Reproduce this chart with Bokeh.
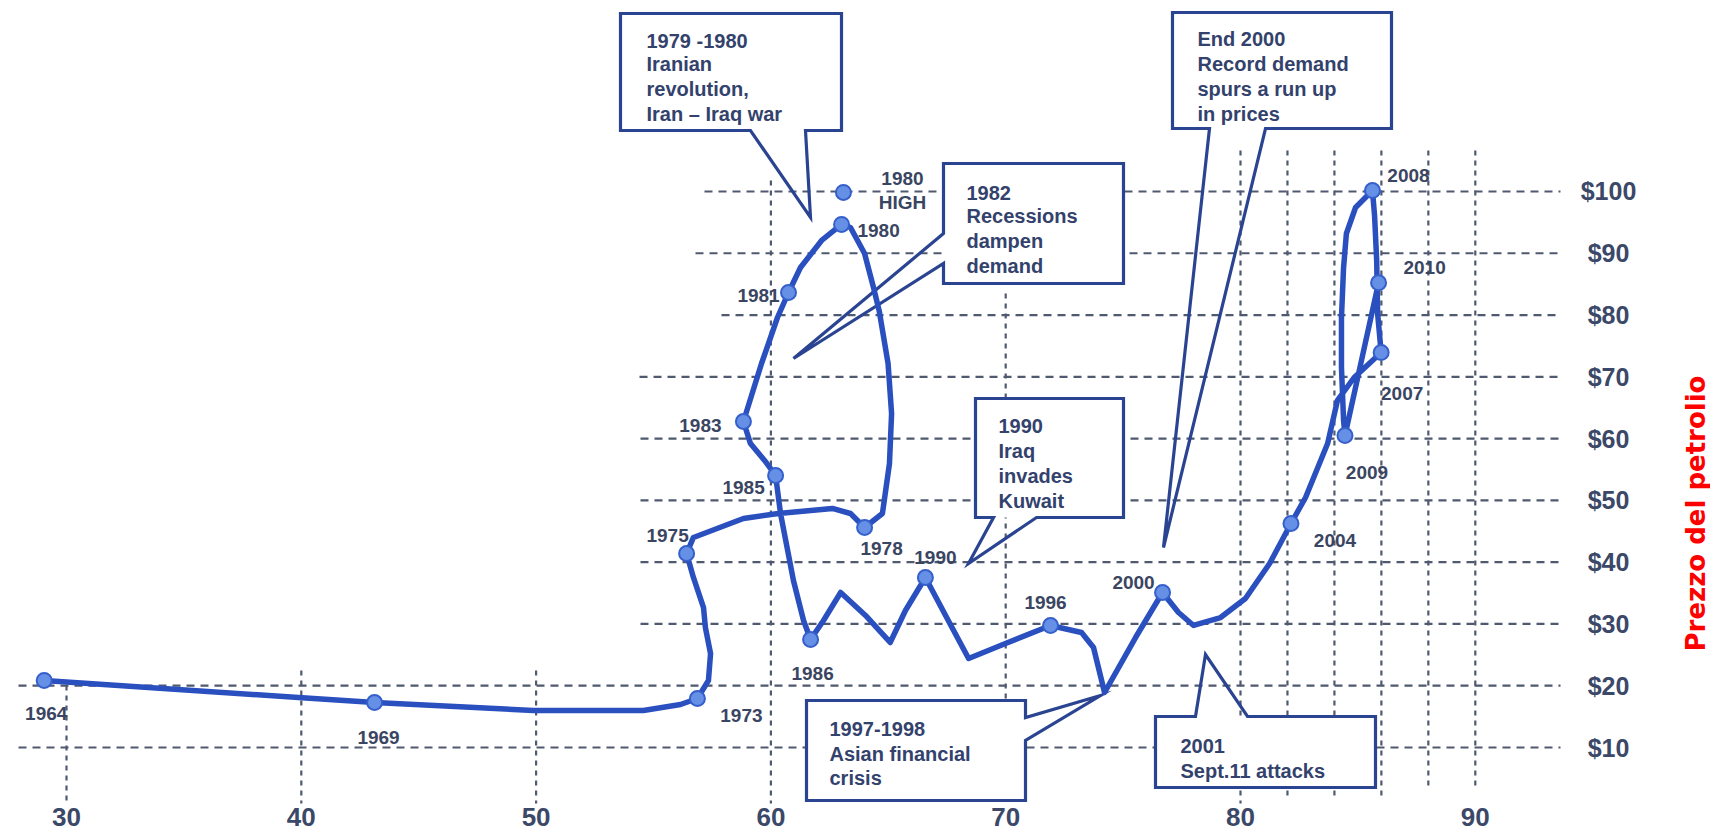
import math
from bokeh.plotting import figure
from bokeh.models import Range1d, ColumnDataSource
from bokeh.core.properties import value
from bokeh.embed import file_html
from bokeh.resources import INLINE

# ---------------- data ----------------
x_ticks = [30, 40, 50, 60, 70, 80, 90]
x_tick_labels = ["30", "40", "50", "60", "70", "80", "90"]
y_ticks = [10, 20, 30, 40, 50, 60, 70, 80, 90, 100]
y_tick_labels = ["$10", "$20", "$30", "$40", "$50", "$60", "$70", "$80", "$90", "$100"]

# traced path of the curve (x units, $ price)
path_x = [29.05, 39.88, 43.12, 49.89, 54.57, 56.15, 56.87, 57.34, 57.43, 57.21,
          57.13, 56.70, 56.41, 56.70, 58.83, 60.32, 62.62, 63.39, 63.99, 64.75,
          65.05, 65.14, 64.99, 64.61, 64.37, 63.99, 63.39, 63.01, 62.16, 61.26,
          60.75, 60.28, 59.60, 58.83, 59.13, 59.73, 60.20, 60.41, 60.96, 61.39,
          61.69, 62.24, 62.97, 64.03, 65.08, 65.73, 66.58, 67.44, 68.42, 69.99,
          71.91, 73.23, 73.74, 74.21, 75.53, 76.68, 77.36, 78.00, 79.15, 80.21,
          81.24, 82.15, 82.77, 83.71, 84.13, 84.84, 85.99, 85.84, 85.80, 85.71,
          85.62, 84.90, 84.51, 84.39, 84.30, 84.30, 84.39, 84.45, 85.88]
path_y = [20.85, 18.09, 17.28, 15.99, 16.00, 16.96, 17.93, 20.85, 25.20, 29.42,
          32.66, 37.52, 41.40, 44.00, 47.07, 47.88, 48.69, 47.88, 45.61, 47.88,
          55.97, 64.06, 72.16, 80.73, 84.46, 89.96, 94.17, 94.66, 92.07, 87.70,
          83.65, 79.60, 72.16, 62.77, 59.20, 56.46, 54.03, 47.88, 37.03, 30.56,
          27.48, 30.56, 35.09, 31.37, 27.00, 32.18, 37.52, 31.37, 24.41, 26.83,
          29.75, 28.61, 26.19, 18.90, 27.80, 35.09, 31.85, 29.75, 31.04, 34.12,
          39.78, 46.26, 50.47, 59.20, 66.17, 69.89, 73.94, 80.25, 88.83, 96.11,
          100.16, 97.41, 93.20, 87.70, 79.60, 71.51, 62.93, 60.50, 85.23]

# marked years
point_years = ["1964", "1969", "1973", "1975", "1978", "1980", "1981", "1983", "1985",
               "1986", "1990", "1996", "2000", "2004", "2007", "2008", "2009", "2010"]
point_x = [29.05, 43.12, 56.87, 56.41, 63.99, 63.01, 60.75, 58.83, 60.20,
           61.69, 66.58, 71.91, 76.68, 82.15, 85.99, 85.62, 84.45, 85.88]
point_y = [20.85, 17.28, 17.93, 41.40, 45.61, 94.66, 83.65, 62.77, 54.03,
           27.48, 37.52, 29.75, 35.09, 46.26, 73.94, 100.16, 60.50, 85.23]

high_label = ["1980", "HIGH"]
high_x = [63.09]
high_y = [99.84]

# ---------------- layout (reference pixel geometry) ----------------
W, H = 1710, 830
X0_PX, X_PX = 66.0, 23.48     # page px of x=30, px per unit
Y0_PX, Y_PX = 747.0, 6.178    # page px of $10, px per $


def dx(px):
    return 30 + (px - X0_PX) / X_PX


def dy(py):
    return 10 + (Y0_PX - py) / Y_PX


# label offsets (screen px) for the year labels
label_off_x = [2, 4, 44, -19, 17, 37, -30, -43, -32, 2, 10, -5, -29, 44, 21, 36, 22, 46]
label_off_y = [33, 35, 17, -18, 21, 6, 3, 4, 12, 34, -20, -23, -10, 17, 41, -15, 37, -15]

# grid segments
h_start_px = {100: 704, 90: 695, 80: 721, 70: 639, 60: 640, 50: 640, 40: 640, 30: 640, 20: 18, 10: 18}
h_end_px = 1560
v_lines = [30, 40, 50, 60, 70, 80, 82, 84, 86, 88, 90]
v_top_px = {30: 685, 40: 670, 50: 670, 60: 180, 70: 293, 80: 150, 82: 150, 84: 150, 86: 150, 88: 150, 90: 150}
v_bot_px = {30: 803, 40: 803, 50: 803, 60: 803, 70: 803, 80: 803, 82: 795, 84: 795, 86: 795, 88: 790, 90: 790}

callouts = [
    dict(box=(620, 13, 841, 130), side="bottom", base=(750, 805), apex=(810, 217),
         tx=646, ty=[40, 63, 88, 113],
         lines=["1979 -1980", "Iranian", "revolution,", "Iran \u2013 Iraq war"]),
    dict(box=(943, 163, 1123, 283), side="left", base=(233, 263), apex=(793, 358),
         tx=966, ty=[192, 215, 240, 265],
         lines=["1982", "Recessions", "dampen", "demand"]),
    dict(box=(975, 398, 1123, 517), side="bottom", base=(993, 1036), apex=(968, 563),
         tx=998, ty=[425, 450, 475, 500],
         lines=["1990", "Iraq", "invades", "Kuwait"]),
    dict(box=(1172, 12, 1391, 128), side="bottom", base=(1209, 1265), apex=(1163, 547),
         tx=1197, ty=[38, 63, 88, 113],
         lines=["End 2000", "Record demand", "spurs a run up", "in prices"]),
    dict(box=(806, 700, 1025, 800), side="right", base=(717, 740), apex=(1100, 695),
         tx=829, ty=[728, 753, 777],
         lines=["1997-1998", "Asian financial", "crisis"]),
    dict(box=(1155, 716, 1375, 787), side="top", base=(1195, 1247), apex=(1205, 654),
         tx=1180, ty=[745, 770],
         lines=["2001", "Sept.11 attacks"]),
]


def outline(c):
    l, t, r, b = c["box"]
    b1, b2 = c["base"]
    ax, ay = c["apex"]
    s = c["side"]
    if s == "bottom":
        pts = [(l, t), (r, t), (r, b), (b2, b), (ax, ay), (b1, b), (l, b), (l, t)]
    elif s == "top":
        pts = [(l, t), (b1, t), (ax, ay), (b2, t), (r, t), (r, b), (l, b), (l, t)]
    elif s == "left":
        pts = [(l, t), (r, t), (r, b), (l, b), (l, b2), (ax, ay), (l, b1), (l, t)]
    else:
        pts = [(l, t), (r, t), (r, b1), (ax, ay), (r, b2), (r, b), (l, b), (l, t)]
    return [dx(px) for px, _ in pts], [dy(py) for _, py in pts]


p = figure(width=W, height=H,
           x_range=Range1d(dx(0), dx(W)), y_range=Range1d(dy(H), dy(0)),
           x_axis_location=None, y_axis_location=None,
           toolbar_location=None, output_backend="svg", min_border=0)
p.grid.visible = False
p.outline_line_color = None
p.background_fill_color = "white"
p.border_fill_color = "white"

GRID = "#4f596f"
# horizontal dashed grid
p.segment(x0=[dx(h_start_px[v]) for v in y_ticks], y0=y_ticks,
          x1=[dx(h_end_px)] * len(y_ticks), y1=y_ticks,
          line_color=GRID, line_width=2.2, line_dash="8 6")
# vertical dashed grid
p.segment(x0=v_lines, y0=[dy(v_top_px[v]) for v in v_lines],
          x1=v_lines, y1=[dy(v_bot_px[v]) for v in v_lines],
          line_color=GRID, line_width=2.2, line_dash="5 5")

# callout boxes
BOX = "#2a4491"
p.quad(left=[dx(c["box"][0]) for c in callouts], right=[dx(c["box"][2]) for c in callouts],
       top=[dy(c["box"][1]) for c in callouts], bottom=[dy(c["box"][3]) for c in callouts],
       fill_color="white", line_color=None)
oxs, oys = zip(*[outline(c) for c in callouts])
p.patches(xs=list(oxs), ys=list(oys), fill_alpha=0, line_color=BOX, line_width=3.2,
          line_join="miter")

TXT = "#33426c"
for c in callouts:
    p.text(x=[dx(c["tx"])] * len(c["lines"]), y=[dy(v) for v in c["ty"]], text=c["lines"],
           text_font=value("Liberation Sans"), text_font_style="bold",
           text_font_size="20px", text_color=TXT, text_align="left", text_baseline="middle")

# curve
CURVE = "#2a4fbe"
p.line(path_x, path_y, line_color=CURVE, line_width=5.5, line_join="round", line_cap="round")

# markers
src = ColumnDataSource(dict(x=point_x, y=point_y, year=point_years,
                            ox=label_off_x, oy=label_off_y))
p.scatter("x", "y", source=src, size=15, fill_color="#6690e6", line_color="#3560cc", line_width=2)
p.scatter(high_x, high_y, size=15, fill_color="#6690e6", line_color="#3560cc", line_width=2)

YR = "#3a4562"
p.text(x="x", y="y", text="year", source=src, x_offset="ox", y_offset="oy",
       text_font=value("Liberation Sans"), text_font_style="bold", text_font_size="19px",
       text_color=YR, text_align="center", text_baseline="middle")
p.text(x=high_x * 2, y=high_y * 2, text=high_label, x_offset=[59, 59], y_offset=[-14, 10],
       text_font=value("Liberation Sans"), text_font_style="bold", text_font_size="19px",
       text_color=YR, text_align="center", text_baseline="middle")

# tick labels
TICK = "#3b4868"
p.text(x=x_ticks, y=[dy(816)] * len(x_ticks), text=x_tick_labels,
       text_font=value("Liberation Sans"), text_font_style="bold", text_font_size="26px",
       text_color=TICK, text_align="center", text_baseline="middle")
p.text(x=[dx(1608)] * len(y_ticks), y=y_ticks, text=y_tick_labels,
       text_font=value("Liberation Sans"), text_font_style="bold", text_font_size="25px",
       text_color=TICK, text_align="center", text_baseline="middle")

# axis title (reads bottom to top)
p.text(x=[dx(1695)], y=[dy(513)], text=["Prezzo del petrolio"], angle=math.pi / 2,
       text_font=value("DejaVu Sans"), text_font_style="bold", text_font_size="26px",
       text_color="#ff0000", text_align="center", text_baseline="middle")

open("out.html", "w").write(file_html(p, INLINE))
